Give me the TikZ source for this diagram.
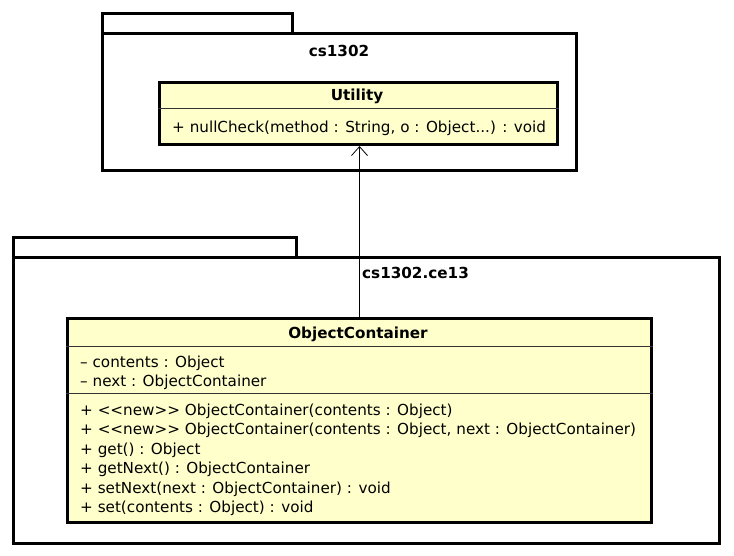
\documentclass[tikz,border=0pt]{standalone}
\usepackage{fontspec}
\setmainfont{DejaVu Sans}
\usetikzlibrary{arrows.meta, positioning}

\definecolor{classfill}{RGB}{255,255,204}
\newcommand{\umlsize}{\fontsize{15.2}{18}\selectfont}

\begin{document}
\begin{tikzpicture}[x=1pt, y=-1pt, node distance=4pt,
  pkg/.style={draw, line width=3pt, inner sep=0, outer sep=0, anchor=north west},
  umlclass/.style={draw, line width=3pt, fill=classfill, inner sep=0, anchor=north west},
  member/.style={inner sep=0, text height=11pt, text depth=4pt, anchor=west, font=\umlsize},
  classtitle/.style={inner sep=0, text height=11pt, text depth=4pt, font=\umlsize\bfseries},
  divider/.style={line width=0.8pt, draw=black!80}]

\useasboundingbox (0,0) rectangle (734,556);

% package cs1302
\node[pkg, minimum width=474pt, minimum height=137pt]	(cs)		at (102,34)	{};
\node[pkg, minimum width=190pt, minimum height=20pt, anchor=south west]	(cstab)	at (cs.north west)	{};
\node[classtitle]	(cslabel)	at (339,53)	{cs1302};

% class Utility
\node[umlclass, minimum width=398pt, minimum height=62pt]	(util)	at (158,81)	{};
\node[classtitle]	(utiltitle)	at (357,97)	{Utility};
\coordinate (utildiv) at (0,108);
\draw[divider] (util.west |- utildiv) -- (util.east |- utildiv);
\node[member]	(nullcheck)	at (172,129)	{+ nullCheck(method : String, o : Object...) : void};

% package cs1302.ce13
\node[pkg, minimum width=706pt, minimum height=285pt]	(ce)		at (13,258)	{};
\node[pkg, minimum width=283pt, minimum height=20pt, anchor=south west]	(cetab)	at (ce.north west)	{};
\node[classtitle, anchor=west]	(celabel)	at (362,275)	{cs1302.ce13};

% class ObjectContainer
\node[umlclass, minimum width=584pt, minimum height=204pt]	(oc)	at (66,317)	{};
\node[classtitle]	(octitle)	at (358,335)	{ObjectContainer};
\coordinate (ocdiv1) at (0,346);
\coordinate (ocdiv2) at (0,393);
\draw[divider] (oc.west |- ocdiv1) -- (oc.east |- ocdiv1);
\draw[divider] (oc.west |- ocdiv2) -- (oc.east |- ocdiv2);

\node[member]	(contents)	at (80,364)	{-- contents : Object};
\node[member]	(next)		[below=of contents.south west, anchor=north west]	{-- next : ObjectContainer};

\node[member]	(ctor1)		at (80,412)	{+ <{}<new>{}> ObjectContainer(contents : Object)};
\node[member]	(ctor2)		[below=of ctor1.south west, anchor=north west]	{+ <{}<new>{}> ObjectContainer(contents : Object, next : ObjectContainer)};
\node[member]	(get)		[below=of ctor2.south west, anchor=north west]	{+ get() : Object};
\node[member]	(getnext)	[below=of get.south west, anchor=north west]		{+ getNext() : ObjectContainer};
\node[member]	(setnext)	[below=of getnext.south west, anchor=north west]	{+ setNext(next : ObjectContainer) : void};
\node[member]	(set)		[below=of setnext.south west, anchor=north west]	{+ set(contents : Object) : void};

% dependency
\draw[-{Straight Barb[length=9pt, width=16pt]}, line width=0.8pt] (oc.north) -- (oc.north |- util.south);
\end{tikzpicture}
\end{document}
